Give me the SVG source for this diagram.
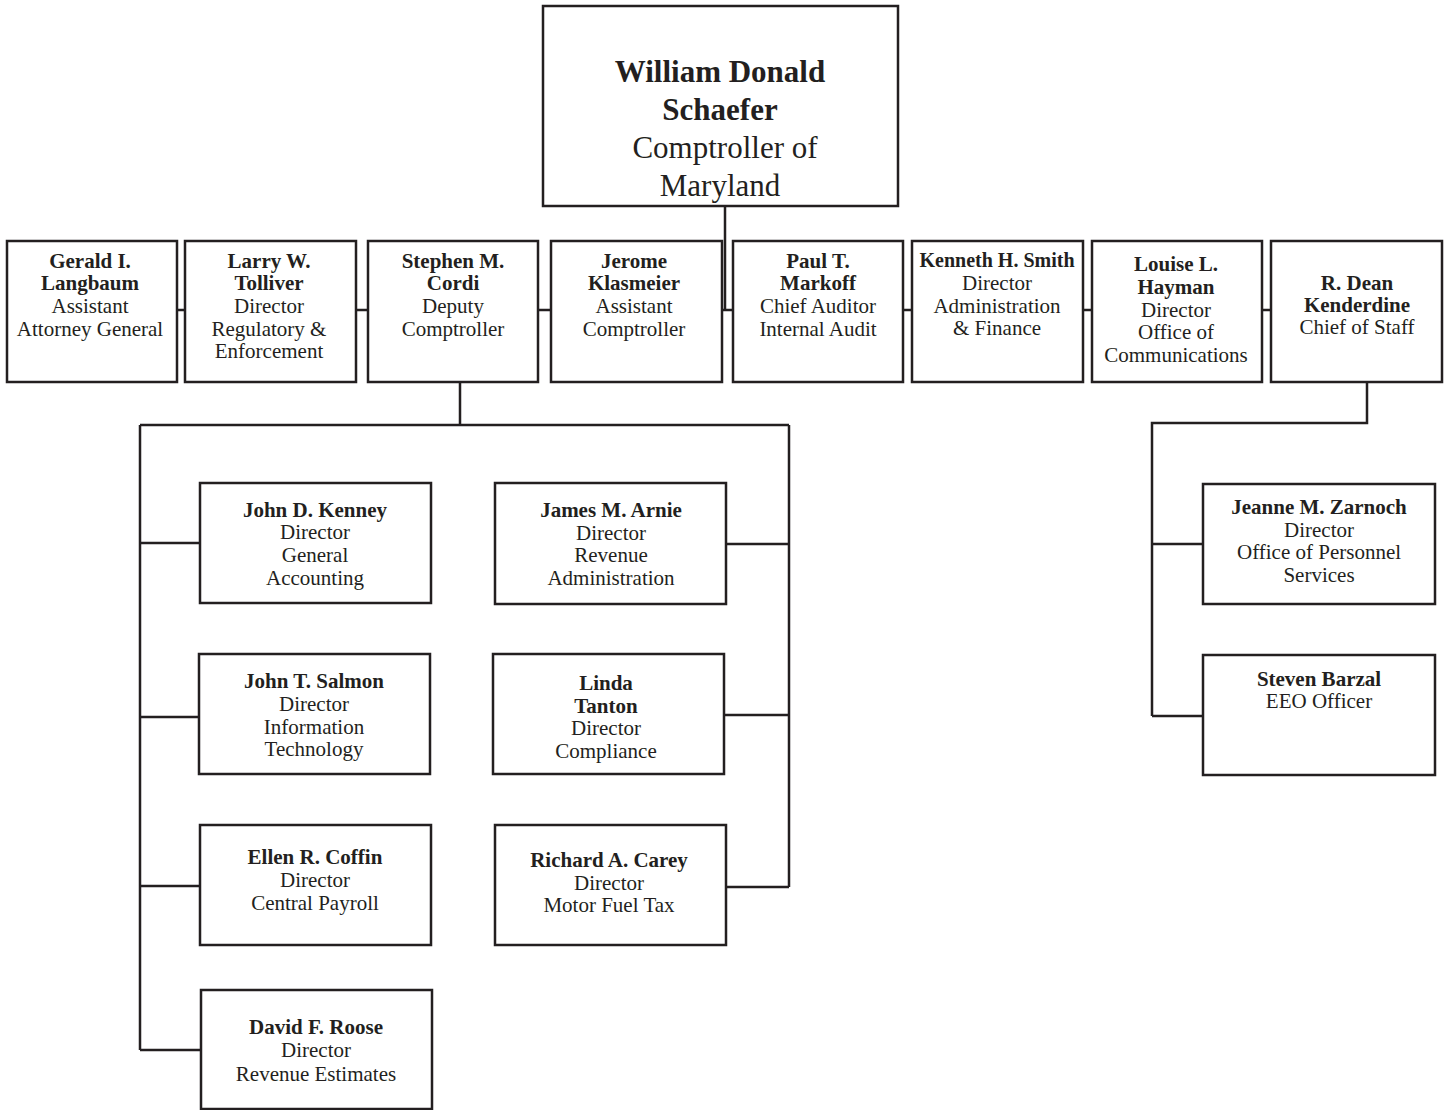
<svg xmlns="http://www.w3.org/2000/svg" width="1450" height="1110" viewBox="0 0 1450 1110">
<style>
.box{fill:#fff;stroke:#231f20;stroke-width:2.5}
.conn{fill:none;stroke:#231f20;stroke-width:2.5}
.b{font-weight:bold}
.big{font-size:31px}
</style>
<rect width="1450" height="1110" fill="#fff"/>
<g id="connectors">
<path class="conn" d="M725,206 V311"/>
<path class="conn" d="M177,310 H185 M356,310 H368 M538,310 H551 M722,310 H733 M903,310 H912 M1083,310 H1092 M1262,310 H1271"/>
<path class="conn" d="M460,382 V425 M140,425 H789 M140,425 V1050 M789,425 V887"/>
<path class="conn" d="M140,543 H200 M140,717 H200 M140,886 H200 M140,1050 H200"/>
<path class="conn" d="M726,544 H789 M724,715 H789 M726,887 H789"/>
<path class="conn" d="M1367,382 V423 H1152 V716 M1152,544 H1203 M1152,716 H1203"/>
</g>
<g font-family="Liberation Serif, Times New Roman, serif" font-size="21" fill="#231f20" text-anchor="middle">
<g id="n-schaefer">
<rect class="box" x="543" y="6" width="355" height="200"/>
<text class="b big" x="720" y="82">William Donald</text>
<text class="b big" x="720" y="120">Schaefer</text>
<text class="big" x="725" y="158">Comptroller of</text>
<text class="big" x="720" y="196">Maryland</text>
</g>
<g id="n-langbaum">
<rect class="box" x="7" y="241" width="170" height="141"/>
<text class="b" x="90" y="268">Gerald I.</text>
<text class="b" x="90" y="290">Langbaum</text>
<text x="90" y="313">Assistant</text>
<text x="90" y="336">Attorney General</text>
</g>
<g id="n-tolliver">
<rect class="box" x="185" y="241" width="171" height="141"/>
<text class="b" x="269" y="268">Larry W.</text>
<text class="b" x="269" y="290">Tolliver</text>
<text x="269" y="313">Director</text>
<text x="269" y="336">Regulatory &amp;</text>
<text x="269" y="358">Enforcement</text>
</g>
<g id="n-cordi">
<rect class="box" x="368" y="241" width="170" height="141"/>
<text class="b" x="453" y="268">Stephen M.</text>
<text class="b" x="453" y="290">Cordi</text>
<text x="453" y="313">Deputy</text>
<text x="453" y="336">Comptroller</text>
</g>
<g id="n-klasmeier">
<rect class="box" x="551" y="241" width="171" height="141"/>
<text class="b" x="634" y="268">Jerome</text>
<text class="b" x="634" y="290">Klasmeier</text>
<text x="634" y="313">Assistant</text>
<text x="634" y="336">Comptroller</text>
</g>
<g id="n-markoff">
<rect class="box" x="733" y="241" width="170" height="141"/>
<text class="b" x="818" y="268">Paul T.</text>
<text class="b" x="818" y="290">Markoff</text>
<text x="818" y="313">Chief Auditor</text>
<text x="818" y="336">Internal Audit</text>
</g>
<g id="n-smith">
<rect class="box" x="912" y="241" width="171" height="141"/>
<text class="b" x="997" y="267" font-size="20">Kenneth H. Smith</text>
<text x="997" y="290">Director</text>
<text x="997" y="313">Administration</text>
<text x="997" y="335">&amp; Finance</text>
</g>
<g id="n-hayman">
<rect class="box" x="1092" y="241" width="170" height="141"/>
<text class="b" x="1176" y="271">Louise L.</text>
<text class="b" x="1176" y="294">Hayman</text>
<text x="1176" y="317">Director</text>
<text x="1176" y="339">Office of</text>
<text x="1176" y="362">Communications</text>
</g>
<g id="n-kenderdine">
<rect class="box" x="1271" y="241" width="171" height="141"/>
<text class="b" x="1357" y="290">R. Dean</text>
<text class="b" x="1357" y="312">Kenderdine</text>
<text x="1357" y="334">Chief of Staff</text>
</g>
<g id="n-kenney">
<rect class="box" x="200" y="483" width="231" height="120"/>
<text class="b" x="315" y="517">John D. Kenney</text>
<text x="315" y="539">Director</text>
<text x="315" y="562">General</text>
<text x="315" y="585">Accounting</text>
</g>
<g id="n-salmon">
<rect class="box" x="199" y="654" width="231" height="120"/>
<text class="b" x="314" y="688">John T. Salmon</text>
<text x="314" y="711">Director</text>
<text x="314" y="734">Information</text>
<text x="314" y="756">Technology</text>
</g>
<g id="n-coffin">
<rect class="box" x="200" y="825" width="231" height="120"/>
<text class="b" x="315" y="864">Ellen R. Coffin</text>
<text x="315" y="887">Director</text>
<text x="315" y="910">Central Payroll</text>
</g>
<g id="n-roose">
<rect class="box" x="201" y="990" width="231" height="119"/>
<text class="b" x="316" y="1034">David F. Roose</text>
<text x="316" y="1057">Director</text>
<text x="316" y="1081">Revenue Estimates</text>
</g>
<g id="n-arnie">
<rect class="box" x="495" y="483" width="231" height="121"/>
<text class="b" x="611" y="517">James M. Arnie</text>
<text x="611" y="540">Director</text>
<text x="611" y="562">Revenue</text>
<text x="611" y="585">Administration</text>
</g>
<g id="n-tanton">
<rect class="box" x="493" y="654" width="231" height="120"/>
<text class="b" x="606" y="690">Linda</text>
<text class="b" x="606" y="713">Tanton</text>
<text x="606" y="735">Director</text>
<text x="606" y="758">Compliance</text>
</g>
<g id="n-carey">
<rect class="box" x="495" y="825" width="231" height="120"/>
<text class="b" x="609" y="867">Richard A. Carey</text>
<text x="609" y="890">Director</text>
<text x="609" y="912">Motor Fuel Tax</text>
</g>
<g id="n-zarnoch">
<rect class="box" x="1203" y="484" width="232" height="120"/>
<text class="b" x="1319" y="514">Jeanne M. Zarnoch</text>
<text x="1319" y="537">Director</text>
<text x="1319" y="559">Office of Personnel</text>
<text x="1319" y="582">Services</text>
</g>
<g id="n-barzal">
<rect class="box" x="1203" y="655" width="232" height="120"/>
<text class="b" x="1319" y="686">Steven Barzal</text>
<text x="1319" y="708">EEO Officer</text>
</g>
</g>
</svg>
